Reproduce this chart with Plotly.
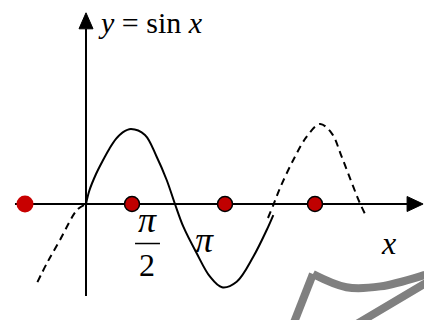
import plotly.graph_objects as go

# ---- data (x in units of pi, y in amplitude units) ----
solid_x = [0, 0.036, 0.109, 0.182, 0.253, 0.326, 0.399, 0.489, 0.641, 0.768, 0.877, 0.967,
           1.058, 1.203, 1.348, 1.478, 1.638, 1.818, 1.964, 2.036]
solid_y = [0, 0.166, 0.375, 0.541, 0.688, 0.813, 0.896, 0.938, 0.863, 0.591, 0.300, 0.0,
           -0.284, -0.616, -0.909, -1.041, -0.971, -0.659, -0.325, -0.138]

dash_right_x = [1.978, 2.036, 2.109, 2.253, 2.399, 2.543, 2.671, 2.779, 2.905, 2.978, 3.033]
dash_right_y = [-0.175, -0.013, 0.200, 0.550, 0.841, 1.000, 0.884, 0.591, 0.216, 0.009, -0.125]

dash_left_x = [-0.022, -0.098, -0.283, -0.424, -0.533]
dash_left_y = [-0.013, -0.075, -0.450, -0.738, -0.988]

dot_left_x = [-0.663]
dot_left_y = [0]
dots_x = [0.5, 1.511, 2.489]
dots_y = [0, 0, 0]

# decorative gray outline (bottom right)
deco_a_x = [2.22, 2.467]
deco_a_y = [-1.60, -0.875]
deco_b_x = [2.467, 2.83, 3.20, 3.674, 3.90]
deco_b_y = [-0.875, -1.04, -1.03, -0.89, -0.80]
deco_c_x = [3.90, 3.674, 2.87]
deco_c_y = [-0.90, -1.00, -1.55]

# axes extents
x_axis_from, x_axis_to = -0.772, 3.49
y_axis_from, y_axis_to = -1.15, 2.19

fig = go.Figure()

fig.add_trace(go.Scatter(x=deco_a_x, y=deco_a_y, mode="lines",
                         line=dict(color="#808080", width=8)))
fig.add_trace(go.Scatter(x=deco_b_x, y=deco_b_y, mode="lines",
                         line=dict(color="#808080", width=8, shape="spline")))
fig.add_trace(go.Scatter(x=deco_c_x, y=deco_c_y, mode="lines",
                         line=dict(color="#808080", width=8)))

# axes
fig.add_trace(go.Scatter(x=[x_axis_from, x_axis_to], y=[0, 0], mode="lines",
                         line=dict(color="black", width=2)))
fig.add_trace(go.Scatter(x=[0, 0], y=[y_axis_from, y_axis_to], mode="lines",
                         line=dict(color="black", width=2)))
# arrowheads
ax_len = 16 / 92
ax_half = 7.5 / 80
fig.add_trace(go.Scatter(x=[x_axis_to, x_axis_to + ax_len, x_axis_to, x_axis_to],
                         y=[ax_half, 0, -ax_half, ax_half], mode="lines",
                         fill="toself", fillcolor="black", line=dict(color="black", width=1)))
ay_len = 16 / 80
ay_half = 7 / 92
fig.add_trace(go.Scatter(x=[-ay_half, 0, ay_half, -ay_half],
                         y=[y_axis_to, y_axis_to + ay_len, y_axis_to, y_axis_to], mode="lines",
                         fill="toself", fillcolor="black", line=dict(color="black", width=1)))

# curves
fig.add_trace(go.Scatter(x=solid_x, y=solid_y, mode="lines",
                         line=dict(color="black", width=2, shape="spline")))
fig.add_trace(go.Scatter(x=dash_right_x, y=dash_right_y, mode="lines",
                         line=dict(color="black", width=2, shape="spline", dash="7px,5px")))
fig.add_trace(go.Scatter(x=dash_left_x, y=dash_left_y, mode="lines",
                         line=dict(color="black", width=2, shape="spline", dash="7px,5px")))

# dots
fig.add_trace(go.Scatter(x=dot_left_x, y=dot_left_y, mode="markers",
                         marker=dict(color="#C80000", size=17, line=dict(width=0))))
fig.add_trace(go.Scatter(x=dots_x, y=dots_y, mode="markers",
                         marker=dict(color="#C00000", size=15, line=dict(color="black", width=1.5))))

serif = "Liberation Serif, Times New Roman, serif"
ann = [
    dict(x=0.109, y=2.27, text="<i>y</i> = sin <i>x</i>", xanchor="left", size=30),
    dict(x=0.663, y=-0.20, text="<i>π</i>", xanchor="center", size=36),
    dict(x=0.668, y=-0.76, text="2", xanchor="center", size=32),
    dict(x=1.293, y=-0.45, text="<i>π</i>", xanchor="center", size=36),
    dict(x=3.293, y=-0.49, text="<i>x</i>", xanchor="center", size=32),
]
for a in ann:
    fig.add_annotation(x=a["x"], y=a["y"], text=a["text"], showarrow=False,
                       xanchor=a["xanchor"], yanchor="middle",
                       font=dict(family=serif, size=a["size"], color="black"))

# fraction bar
fig.add_shape(type="line", x0=0.533, x1=0.804, y0=-0.494, y1=-0.494,
              line=dict(color="black", width=1.5))

fig.update_layout(
    width=424, height=320,
    margin=dict(l=0, r=0, t=0, b=0),
    paper_bgcolor="white", plot_bgcolor="white",
    showlegend=False,
    hovermode=False,
    xaxis=dict(range=[-86 / 92, 338 / 92], visible=False, fixedrange=True),
    yaxis=dict(range=[-116 / 80, 204 / 80], visible=False, fixedrange=True),
)

fig.write_html("out.html",
               config={"displayModeBar": False},
               post_script="document.body.style.margin='0';document.body.style.overflow='hidden';")
